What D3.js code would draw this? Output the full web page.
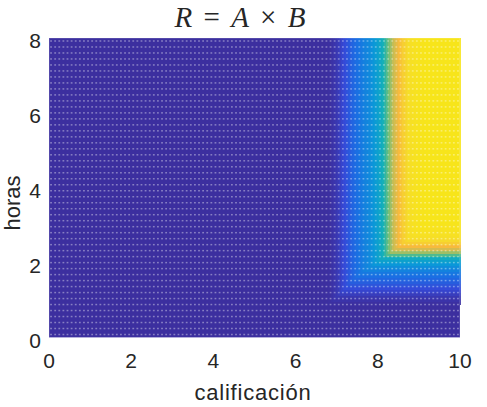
<!DOCTYPE html>
<html>
<head>
<meta charset="utf-8">
<script src="https://cdn.jsdelivr.net/npm/d3@7"></script>
<style>
  body { margin: 0; background: #fff; }
  text { fill: #262626; font-family: "Liberation Sans", Arial, sans-serif; }
</style>
</head>
<body>
<svg id="chart" width="487" height="407"></svg>
<script>
// membership of A over calificacion
var califX = [0, 6.8, 7.0, 7.2, 7.4, 7.6, 7.8, 8.0, 8.2, 8.4, 8.6, 8.8, 9.0, 9.2, 10];
var aVals  = [0, 0,   0.04, 0.13, 0.22, 0.28, 0.34, 0.42, 0.55, 0.72, 0.85, 0.94, 0.98, 1, 1];

// membership of B over horas
var horasY = [0, 0.9, 1.1, 1.3, 1.5, 1.7, 1.9, 2.1, 2.3, 2.5, 2.7, 2.9, 3.1, 8];
var bVals  = [0, 0,   0.04, 0.12, 0.2, 0.27, 0.35, 0.45, 0.68, 0.85, 0.94, 0.98, 1, 1];

var xTicks = [0, 2, 4, 6, 8, 10];
var yTicks = [0, 2, 4, 6, 8];

// parula-ish colour stops
var cmapStops = [0, 0.12, 0.25, 0.38, 0.5, 0.6, 0.7, 0.8, 0.9, 1];
var cmapCols  = ["#3c2f9f", "#3549d8", "#1a6fe3", "#0a98d8", "#14b0b8",
                 "#6cbf7a", "#c5bd55", "#f8ba3c", "#f6dc2a", "#f7e51a"];

try {

var svg = d3.select("#chart");

var plot = { left: 49, right: 460, top: 38, bottom: 337.5 };

var x = d3.scaleLinear().domain([0, 10]).range([plot.left, plot.right]);
var y = d3.scaleLinear().domain([0, 8]).range([plot.bottom, plot.top]);

var A = d3.scaleLinear().domain(califX).range(aVals).clamp(true);
var B = d3.scaleLinear().domain(horasY).range(bVals).clamp(true);

var color = d3.scaleLinear().domain(cmapStops).range(cmapCols).clamp(true);

/*========================================
	Surface  R = min(A,B)
========================================*/
var g = svg.append("g");

g.append("rect")
	.attr("x", x(0)).attr("y", y(8))
	.attr("width", x(10) - x(0)).attr("height", y(0) - y(8))
	.attr("fill", color(0));

var dx = 0.05, dy = 0.08;
var cells = [];
d3.range(0, 10, dx).forEach(function(cx){
	d3.range(0, 8, dy).forEach(function(cy){
		var v = Math.min(A(cx + dx / 2), B(cy + dy / 2));
		if (v > 0.002) cells.push({ x: cx, y: cy, v: v });
	});
});

g.selectAll("rect.cell").data(cells).enter().append("rect")
	.attr("class", "cell")
	.attr("x", function(d){ return x(d.x); })
	.attr("y", function(d){ return y(d.y + dy); })
	.attr("width", x(dx) - x(0) + 0.6)
	.attr("height", y(0) - y(dy) + 0.6)
	.attr("fill", function(d){ return color(d.v); })
	.attr("shape-rendering", "crispEdges");

// mesh dots
var dots = [];
d3.range(0.05, 10, 0.1).forEach(function(mx){
	d3.range(0.08, 8, 0.16).forEach(function(my){
		dots.push([mx, my]);
	});
});
g.selectAll("rect.dot").data(dots).enter().append("rect")
	.attr("class", "dot")
	.attr("x", function(d){ return x(d[0]) - 0.9; })
	.attr("y", function(d){ return y(d[1]) - 0.75; })
	.attr("width", 1.8).attr("height", 1.5)
	.attr("fill", "#fff").attr("opacity", 0.38);

// faint surface edge
g.append("rect")
	.attr("x", x(0)).attr("y", y(8))
	.attr("width", x(10) - x(0)).attr("height", y(0) - y(8))
	.attr("fill", "none").attr("stroke", "#fff").attr("stroke-opacity", 0.25);

/*========================================
	Axes text
========================================*/
svg.append("g").selectAll("text").data(xTicks).enter().append("text")
	.attr("x", function(d){ return x(d); })
	.attr("y", 368)
	.attr("text-anchor", "middle")
	.attr("font-size", 21)
	.text(function(d){ return d; });

svg.append("g").selectAll("text").data(yTicks).enter().append("text")
	.attr("x", 41)
	.attr("y", function(d){ return y(d) + 10; })
	.attr("text-anchor", "end")
	.attr("font-size", 21)
	.text(function(d){ return d; });

svg.append("text")
	.attr("x", 253).attr("y", 400)
	.attr("text-anchor", "middle")
	.attr("font-size", 22)
	.attr("letter-spacing", 0.8)
	.text("calificación");

svg.append("text")
	.attr("transform", "translate(20,203) rotate(-90)")
	.attr("text-anchor", "middle")
	.attr("font-size", 22)
	.text("horas");

var title = svg.append("text")
	.attr("x", 240).attr("y", 27)
	.attr("text-anchor", "middle")
	.attr("font-size", 29)
	.style("font-family", "'Liberation Serif', 'DejaVu Serif', serif")
	.attr("word-spacing", 4);
title.append("tspan").attr("font-style", "italic").text("R");
title.append("tspan").text(" = ");
title.append("tspan").attr("font-style", "italic").text("A");
title.append("tspan").text(" × ");
title.append("tspan").attr("font-style", "italic").text("B");

} catch (e) {
	console.log(e);
}
</script>
</body>
</html>
